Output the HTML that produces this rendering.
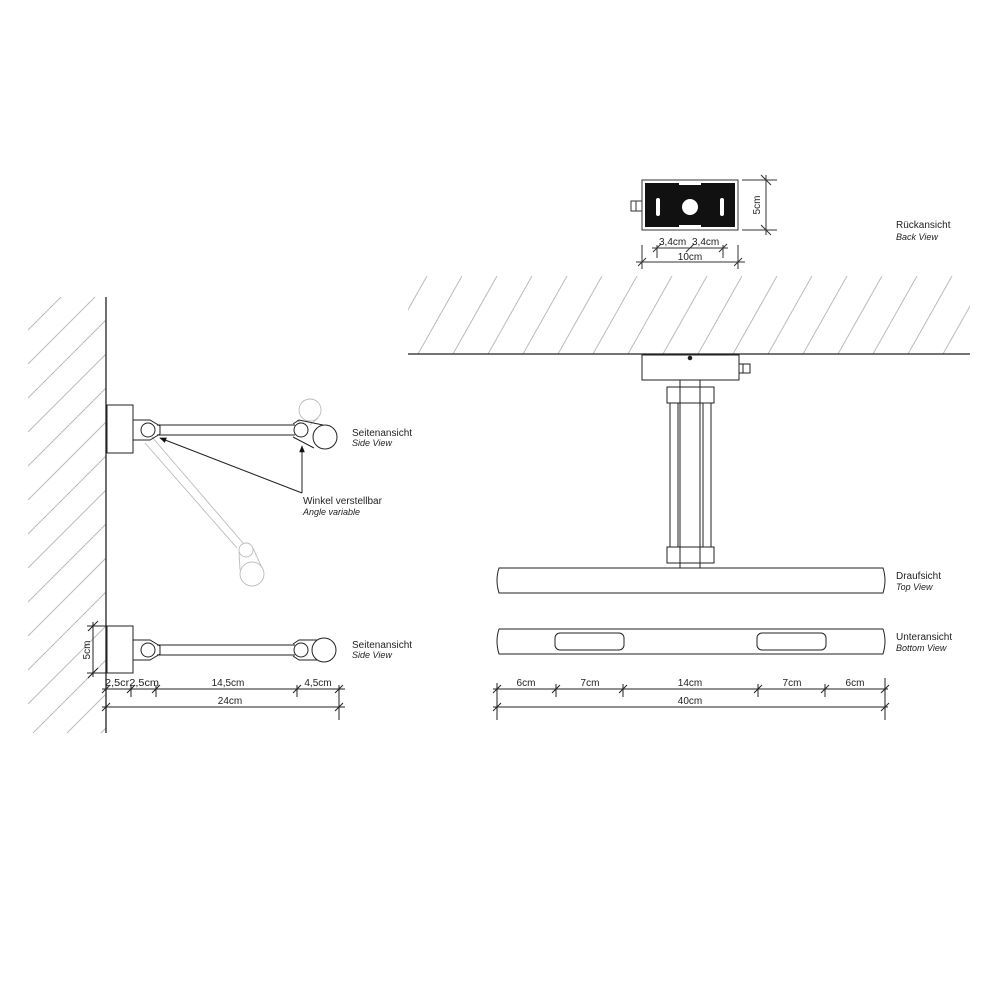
<!DOCTYPE html>
<html><head><meta charset="utf-8"><style>
html,body{margin:0;padding:0;background:#fff}
svg{display:block}
text{font-family:"Liberation Sans",sans-serif;font-size:10px;fill:#222}
.i{font-style:italic;font-size:9px}
</style></head><body>
<svg width="1000" height="1000" viewBox="0 0 1000 1000" xmlns="http://www.w3.org/2000/svg">
<defs>
<clipPath id="cw"><rect x="28" y="297" width="78" height="436"/></clipPath>
<clipPath id="cc"><rect x="408" y="276" width="562" height="78"/></clipPath>
<marker id="ar" viewBox="0 0 10 10" refX="9" refY="5" markerWidth="7" markerHeight="7" orient="auto"><path d="M0,1 L10,5 L0,9z" fill="#111"/></marker>
</defs>
<g clip-path="url(#cw)" stroke="#bbb" stroke-width="1">
<line x1="28" y1="330" x2="110" y2="248"/><line x1="28" y1="364" x2="110" y2="282"/><line x1="28" y1="398" x2="110" y2="316"/><line x1="28" y1="432" x2="110" y2="350"/><line x1="28" y1="466" x2="110" y2="384"/><line x1="28" y1="500" x2="110" y2="418"/><line x1="28" y1="534" x2="110" y2="452"/><line x1="28" y1="568" x2="110" y2="486"/><line x1="28" y1="602" x2="110" y2="520"/><line x1="28" y1="636" x2="110" y2="554"/><line x1="28" y1="670" x2="110" y2="588"/><line x1="28" y1="704" x2="110" y2="622"/><line x1="28" y1="738" x2="110" y2="656"/><line x1="28" y1="772" x2="110" y2="690"/><line x1="28" y1="806" x2="110" y2="724"/>
</g>
<line x1="106" y1="297" x2="106" y2="733" stroke="#222" stroke-width="1.3"/>
<g clip-path="url(#cc)" stroke="#bbb" stroke-width="1">
<line x1="383" y1="354" x2="427" y2="276"/><line x1="418" y1="354" x2="462" y2="276"/><line x1="453" y1="354" x2="497" y2="276"/><line x1="488" y1="354" x2="532" y2="276"/><line x1="523" y1="354" x2="567" y2="276"/><line x1="558" y1="354" x2="602" y2="276"/><line x1="593" y1="354" x2="637" y2="276"/><line x1="628" y1="354" x2="672" y2="276"/><line x1="663" y1="354" x2="707" y2="276"/><line x1="698" y1="354" x2="742" y2="276"/><line x1="733" y1="354" x2="777" y2="276"/><line x1="768" y1="354" x2="812" y2="276"/><line x1="803" y1="354" x2="847" y2="276"/><line x1="838" y1="354" x2="882" y2="276"/><line x1="873" y1="354" x2="917" y2="276"/><line x1="908" y1="354" x2="952" y2="276"/><line x1="943" y1="354" x2="987" y2="276"/>
</g>
<line x1="408" y1="354" x2="970" y2="354" stroke="#222" stroke-width="1.3"/>

<g stroke="#333" fill="none" stroke-width="1">
<rect x="642" y="180" width="96" height="50" fill="#fff"/>
<rect x="645" y="183" width="90" height="44" fill="#111" stroke="none"/>
<rect x="679" y="183" width="22" height="2" fill="#fff" stroke="none"/>
<rect x="679" y="225" width="22" height="2" fill="#fff" stroke="none"/>
<circle cx="690" cy="207" r="8" fill="#fff" stroke="none"/>
<rect x="656" y="198" width="4" height="18" rx="2" fill="#fff" stroke="none"/>
<rect x="720" y="198" width="4" height="18" rx="2" fill="#fff" stroke="none"/>
<rect x="631" y="201" width="11" height="10"/>
<line x1="636" y1="201" x2="636" y2="211"/>
<line x1="766" y1="175" x2="766" y2="235"/>
<line x1="742" y1="180" x2="777" y2="180"/><line x1="742" y1="230" x2="777" y2="230"/>
<line x1="761" y1="175" x2="771" y2="185"/><line x1="761" y1="225" x2="771" y2="235"/>
<line x1="652" y1="248" x2="728" y2="248"/>
<line x1="657" y1="245" x2="657" y2="258"/><line x1="723" y1="245" x2="723" y2="258"/>
<line x1="653" y1="252" x2="661" y2="244"/><line x1="686" y1="252" x2="694" y2="244"/><line x1="719" y1="252" x2="727" y2="244"/>
<line x1="636" y1="262" x2="745" y2="262"/>
<line x1="642" y1="245" x2="642" y2="269"/><line x1="738" y1="245" x2="738" y2="269"/>
<line x1="638" y1="266" x2="646" y2="258"/><line x1="734" y1="266" x2="742" y2="258"/>
</g>
<text x="760" y="205" transform="rotate(-90 760 205)" text-anchor="middle">5cm</text>
<text x="659" y="245">3,4cm</text><text x="692" y="245">3,4cm</text>
<text x="690" y="260" text-anchor="middle">10cm</text>
<text x="896" y="228">Rückansicht</text><text x="896" y="240" class="i">Back View</text>

<g fill="none" stroke="#bbb" stroke-width="0.9">
<line x1="152" y1="437" x2="243" y2="543"/><line x1="145" y1="443" x2="237" y2="548"/>
<circle cx="246" cy="550" r="7"/><circle cx="252" cy="574" r="12"/>
<path d="M239,552 L240,570 M253,548 L262,568"/>
<circle cx="310" cy="410" r="11"/><path d="M297,420 L302,424 M318,418 L310,425"/>
</g>
<g fill="none" stroke="#222" stroke-width="1">
<rect x="107" y="405" width="26" height="48" fill="#fff"/>
<path d="M133,420 L150,420 L160,426 L160,434 L150,440 L133,440"/>
<circle cx="148" cy="430" r="7" fill="#fff"/>
<line x1="157" y1="425" x2="295" y2="425"/><line x1="157" y1="435" x2="295" y2="435"/>
<path d="M293,424 L299,420 L323,425 M293,437 L314,448"/>
<circle cx="301" cy="430" r="7" fill="#fff"/>
<circle cx="325" cy="437" r="12" fill="#fff"/>
<line x1="302" y1="493" x2="160" y2="438" marker-end="url(#ar)"/>
<line x1="302" y1="493" x2="302" y2="446" marker-end="url(#ar)"/>
</g>
<text x="352" y="436">Seitenansicht</text><text x="352" y="446" class="i">Side View</text>
<text x="303" y="504">Winkel verstellbar</text><text x="303" y="515" class="i">Angle variable</text>

<g fill="none" stroke="#222" stroke-width="1">
<rect x="107" y="626" width="26" height="47" fill="#fff"/>
<path d="M133,640 L150,640 L160,646 L160,654 L150,660 L133,660"/>
<circle cx="148" cy="650" r="7" fill="#fff"/>
<line x1="157" y1="645" x2="295" y2="645"/><line x1="157" y1="655" x2="295" y2="655"/>
<path d="M293,644 L299,640 L322,640 M293,656 L299,660 L322,660"/>
<circle cx="301" cy="650" r="7" fill="#fff"/>
<circle cx="324" cy="650" r="12" fill="#fff"/>
<line x1="93" y1="622" x2="93" y2="677"/>
<line x1="87" y1="626" x2="106" y2="626"/><line x1="87" y1="673" x2="106" y2="673"/>
<line x1="88" y1="631" x2="98" y2="621"/><line x1="88" y1="678" x2="98" y2="668"/>
<line x1="102" y1="689" x2="345" y2="689"/>
<line x1="102" y1="707" x2="345" y2="707"/>
<line x1="131" y1="685" x2="131" y2="697"/><line x1="156" y1="685" x2="156" y2="697"/><line x1="297" y1="685" x2="297" y2="697"/><line x1="339" y1="685" x2="339" y2="720"/>
<line x1="102" y1="693" x2="110" y2="685"/><line x1="127" y1="693" x2="135" y2="685"/><line x1="152" y1="693" x2="160" y2="685"/><line x1="293" y1="693" x2="301" y2="685"/><line x1="335" y1="693" x2="343" y2="685"/>
<line x1="102" y1="711" x2="110" y2="703"/><line x1="335" y1="711" x2="343" y2="703"/>
</g>
<text x="90" y="650" transform="rotate(-90 90 650)" text-anchor="middle">5cm</text>
<text x="105" y="686" textLength="54" lengthAdjust="spacingAndGlyphs">2,5cr2,5cm</text>
<text x="228" y="686" text-anchor="middle">14,5cm</text>
<text x="318" y="686" text-anchor="middle">4,5cm</text>
<text x="230" y="704" text-anchor="middle">24cm</text>
<text x="352" y="648">Seitenansicht</text><text x="352" y="658" class="i">Side View</text>

<g fill="none" stroke="#222" stroke-width="1">
<rect x="642" y="355" width="97" height="25" fill="#fff"/>
<circle cx="690" cy="358" r="1.8" fill="#222"/>
<rect x="739" y="364" width="11" height="9"/><line x1="743" y1="364" x2="743" y2="373"/>
<rect x="680" y="380" width="20" height="188" fill="#fff"/>
<rect x="667" y="387" width="47" height="16"/>
<rect x="667" y="547" width="47" height="16"/>
<rect x="670" y="403" width="8" height="144"/>
<rect x="703" y="403" width="8" height="144"/>
<rect x="680" y="387" width="20" height="16"/>
<rect x="680" y="547" width="20" height="16"/>
<path d="M499,568 L883,568 Q887,580 883,593 L499,593 Q495,580 499,568z" fill="#fff"/>
<path d="M499,629 L883,629 Q887,641 883,654 L499,654 Q495,641 499,629z"/>
<rect x="555" y="633" width="69" height="17" rx="5"/>
<rect x="757" y="633" width="69" height="17" rx="5"/>
<line x1="493" y1="689" x2="888" y2="689"/>
<line x1="493" y1="707" x2="888" y2="707"/>
<line x1="497" y1="683" x2="497" y2="720"/><line x1="885" y1="678" x2="885" y2="720"/>
<line x1="556" y1="684" x2="556" y2="697"/><line x1="623" y1="684" x2="623" y2="697"/><line x1="758" y1="684" x2="758" y2="697"/><line x1="825" y1="684" x2="825" y2="697"/>
<line x1="493" y1="693" x2="501" y2="685"/><line x1="552" y1="693" x2="560" y2="685"/><line x1="619" y1="693" x2="627" y2="685"/><line x1="754" y1="693" x2="762" y2="685"/><line x1="821" y1="693" x2="829" y2="685"/><line x1="881" y1="693" x2="889" y2="685"/>
<line x1="493" y1="711" x2="501" y2="703"/><line x1="881" y1="711" x2="889" y2="703"/>
</g>
<text x="526" y="686" text-anchor="middle">6cm</text>
<text x="590" y="686" text-anchor="middle">7cm</text>
<text x="690" y="686" text-anchor="middle">14cm</text>
<text x="792" y="686" text-anchor="middle">7cm</text>
<text x="855" y="686" text-anchor="middle">6cm</text>
<text x="690" y="704" text-anchor="middle">40cm</text>
<text x="896" y="579">Draufsicht</text><text x="896" y="590" class="i">Top View</text>
<text x="896" y="640">Unteransicht</text><text x="896" y="651" class="i">Bottom View</text>
</svg>
</body></html>
